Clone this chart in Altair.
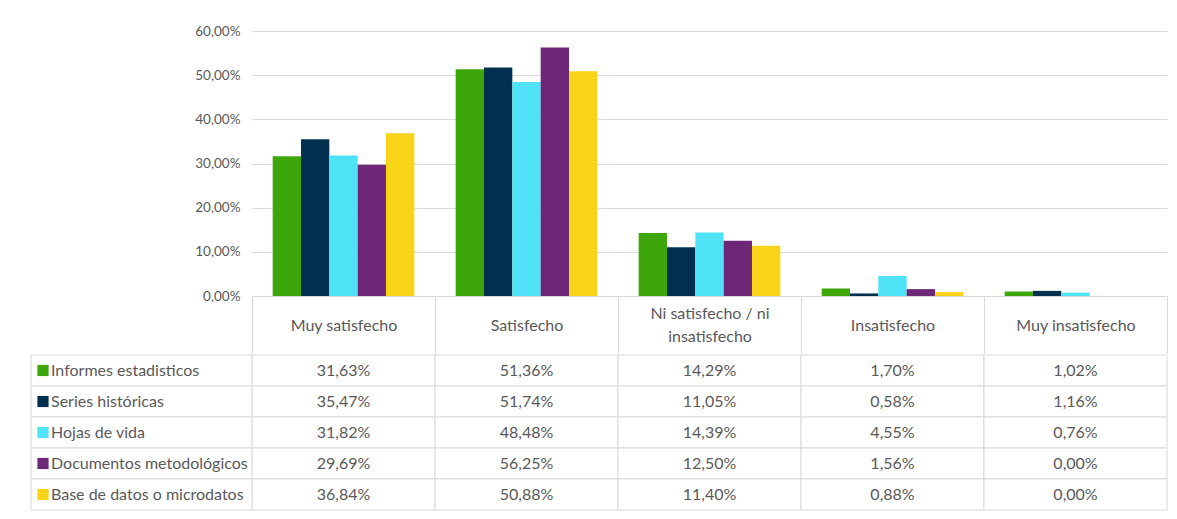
import altair as alt
import pandas as pd

categories = ["Muy satisfecho", "Satisfecho", "Ni satisfecho / ni insatisfecho",
              "Insatisfecho", "Muy insatisfecho"]
series = ["Informes estadisticos", "Series históricas", "Hojas de vida",
          "Documentos metodológicos", "Base de datos o microdatos"]
colors = ["#3da70a", "#01304f", "#50e2f6", "#6e2678", "#f8d317"]

informes = [31.63, 51.36, 14.29, 1.70, 1.02]
series_hist = [35.47, 51.74, 11.05, 0.58, 1.16]
hojas = [31.82, 48.48, 14.39, 4.55, 0.76]
documentos = [29.69, 56.25, 12.50, 1.56, 0.00]
base_datos = [36.84, 50.88, 11.40, 0.88, 0.00]

y_ticks = [0, 0.1, 0.2, 0.3, 0.4, 0.5, 0.6]

rows = []
for s, vals in zip(series, [informes, series_hist, hojas, documentos, base_datos]):
    for c, v in zip(categories, vals):
        rows.append({"series": s, "cat": c, "value": v / 100})
df = pd.DataFrame(rows)
df_series = pd.DataFrame({"series": series})

FONT = "Lato"
TXT = "#595959"
GRID = "#d9d9d9"
PLOT_W = 915
LEFT = 244
HEADER = 57
FS = 16

color_scale = alt.Scale(domain=series, range=colors)
pct_expr = "replace(format(datum.value, '.2%'), '.', ',')"
two_line = "Ni satisfecho / ni insatisfecho"

bars = alt.Chart(df).mark_bar().encode(
    x=alt.X("cat:N", sort=categories,
            scale=alt.Scale(paddingInner=0, paddingOuter=0),
            axis=alt.Axis(title=None, orient="bottom", tickBand="extent",
                          tickSize=HEADER, tickColor=GRID, tickWidth=1,
                          domainColor=GRID, domainWidth=1,
                          labelExpr=f"datum.label == '{two_line}' ? ['Ni satisfecho / ni', 'insatisfecho'] : datum.label",
                          labelFont=FONT, labelFontSize=FS, labelColor=TXT,
                          labelPadding={"condition": {"test": f"datum.value == '{two_line}'", "value": -40},
                                        "value": -28},
                          labelBaseline="middle", labelAngle=0,
                          labelLineHeight=23, labelLimit=0,
                          minExtent=HEADER, maxExtent=HEADER, grid=False)),
    xOffset=alt.XOffset("series:N", sort=series,
                        scale=alt.Scale(paddingInner=0, paddingOuter=0.73)),
    y=alt.Y("value:Q", scale=alt.Scale(domain=[0, 0.6]),
            axis=alt.Axis(title=None, values=y_ticks, labelExpr=pct_expr,
                          grid=True, gridColor=GRID, domain=False, ticks=False,
                          labelPadding=12, labelFont=FONT, labelFontSize=13.5,
                          labelColor=TXT, minExtent=LEFT, maxExtent=LEFT)),
    color=alt.Color("series:N", scale=color_scale, legend=None),
).properties(width=PLOT_W, height=265)


def ycen():
    return alt.Y("series:N", sort=series, axis=None,
                 scale=alt.Scale(paddingInner=0, paddingOuter=0), bandPosition=0.5)


ybase = alt.Y("series:N", sort=series, axis=None,
              scale=alt.Scale(paddingInner=0, paddingOuter=0))

leg_cells = alt.Chart(df_series).mark_rect(fill="white", stroke=GRID, strokeWidth=1).encode(
    x=alt.value(-221), x2=alt.value(0), y=ybase)
leg_sq = alt.Chart(df_series).mark_square(size=125, opacity=1).encode(
    x=alt.value(-209), y=ycen(),
    color=alt.Color("series:N", scale=color_scale, legend=None))
leg_txt = alt.Chart(df_series).mark_text(align="left", baseline="middle", font=FONT,
                                         fontSize=FS, color=TXT).encode(
    x=alt.value(-201), y=ycen(), text="series:N")

xcat = alt.X("cat:N", sort=categories, axis=None,
             scale=alt.Scale(paddingInner=0, paddingOuter=0))
val_cells = alt.Chart(df).mark_rect(fill="white", stroke=GRID, strokeWidth=1).encode(
    x=xcat, y=ybase)
val_txt = alt.Chart(df).transform_calculate(
    label=pct_expr
).mark_text(align="center", baseline="middle", font=FONT, fontSize=FS, color=TXT).encode(
    x=alt.X("cat:N", sort=categories, axis=None,
            scale=alt.Scale(paddingInner=0, paddingOuter=0), bandPosition=0.5),
    y=ycen(),
    text="label:N")

table = alt.layer(val_cells, val_txt, leg_cells, leg_sq, leg_txt).properties(
    width=PLOT_W, height=155)

chart = alt.vconcat(bars, table, spacing=0).properties(
    padding={"left": 0, "top": 16, "right": 0, "bottom": 0},
    background="white",
).configure_view(strokeWidth=0)

chart.save("out.html", embed_options={"renderer": "svg", "actions": False})
